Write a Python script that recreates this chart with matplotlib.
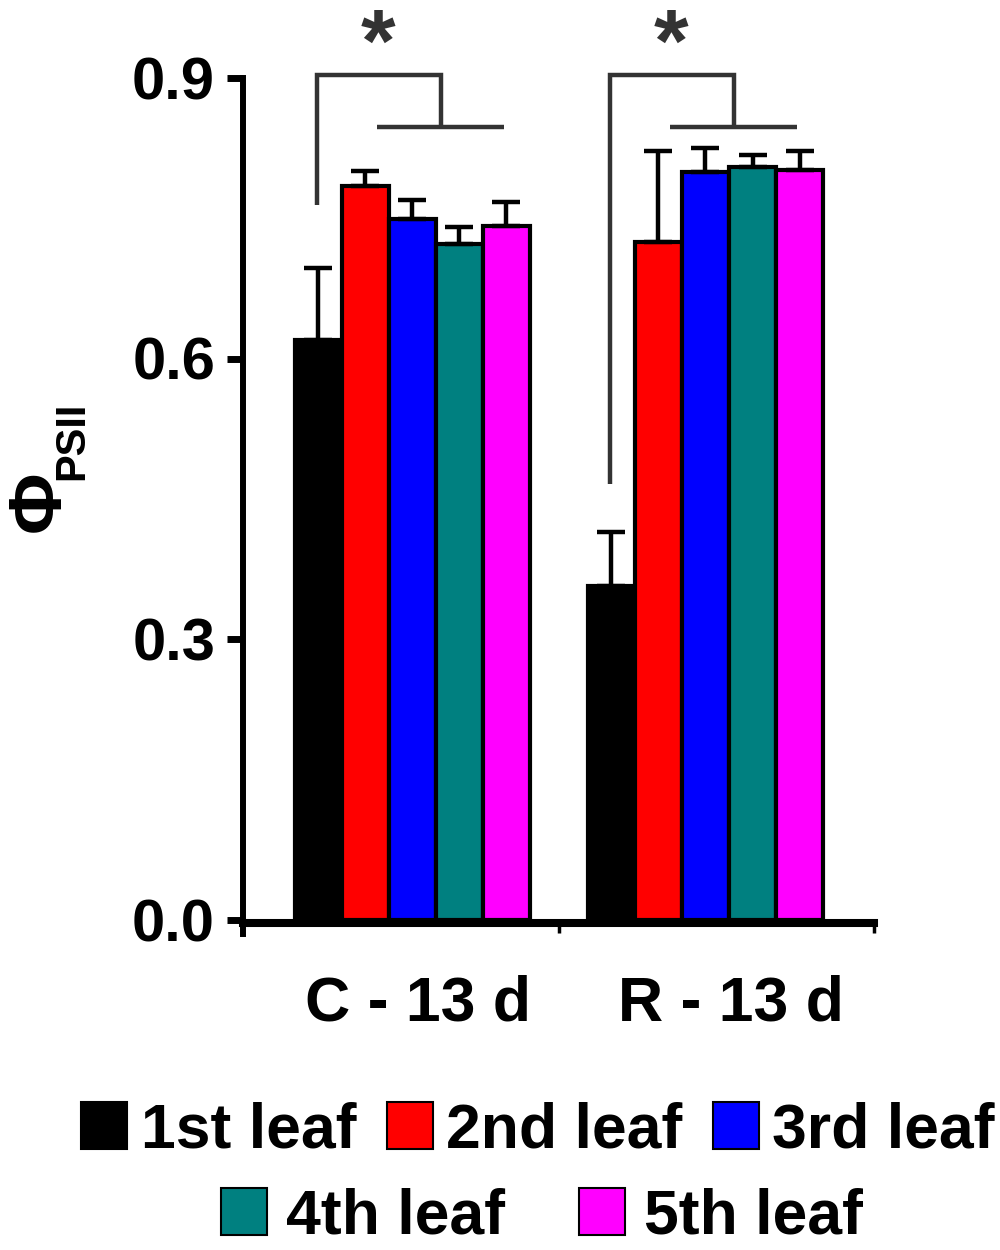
import numpy as np
import matplotlib
matplotlib.use("Agg")
import matplotlib.pyplot as plt
from matplotlib.patches import Patch

plt.rcParams['font.family'] = ['Liberation Sans', 'DejaVu Sans']
plt.rcParams['font.weight'] = 'bold'

# ---------------- data ----------------
groups = ['C - 13 d', 'R - 13 d']
leaves = ['1st leaf', '2nd leaf', '3rd leaf', '4th leaf', '5th leaf']
colors = ['#000000', '#FF0000', '#0000FF', '#008080', '#FF00FF']

c_mean = [0.620, 0.785, 0.749, 0.722, 0.742]
c_err = [0.077, 0.016, 0.021, 0.019, 0.025]
r_mean = [0.357, 0.725, 0.799, 0.805, 0.802]
r_err = [0.057, 0.097, 0.026, 0.013, 0.020]

means = [c_mean, r_mean]
errs = [c_err, r_err]

yticks = [0.0, 0.3, 0.6, 0.9]
ytick_labels = ['0.0', '0.3', '0.6', '0.9']

# ---------------- layout ----------------
group_start = [0.0, 6.234]
bar_w = 1.0
gray = '#333333'

fig = plt.figure(figsize=(10, 12.5), dpi=100)
ax = fig.add_axes([0.243, 0.2644, 0.631, 0.6732])

for g in range(len(groups)):
    x = group_start[g] + np.arange(len(leaves)) * bar_w
    ax.bar(x, means[g], width=bar_w, color=colors, edgecolor='black',
           linewidth=3, zorder=2)
    ax.errorbar(x, means[g], yerr=[np.zeros(len(leaves)), errs[g]],
                fmt='none', ecolor='black', elinewidth=3.2, capsize=10,
                capthick=3.2, zorder=3)

# significance brackets
leg_bottom = [0.764, 0.466]
y_top = 0.903
y_mid = 0.848
for g in range(len(groups)):
    s = group_start[g]
    xl = s - 0.04
    xm = s + 2.6
    ax.plot([xl, xl, xm, xm], [leg_bottom[g], y_top, y_top, y_mid],
            color=gray, lw=3.2, clip_on=False, solid_capstyle='butt',
            solid_joinstyle='miter')
    ax.plot([s + 1.255, s + 3.957], [y_mid, y_mid], color=gray, lw=3.2,
            clip_on=False, solid_capstyle='butt')
    ax.text(s + 1.26, 0.908, '*', color=gray, fontsize=64,
            fontweight='bold', ha='center', va='baseline', clip_on=False)

ax.set_xlim(-1.606, 11.819)
ax.set_ylim(0, 0.9)

for side in ['top', 'right']:
    ax.spines[side].set_visible(False)
ax.spines['left'].set_linewidth(4.3)
ax.spines['left'].set_bounds(-0.015, 0.9)
ax.spines['bottom'].set_linewidth(5.8)
ax.spines['bottom'].set_position(('data', -0.004))

ax.set_yticks(yticks)
ax.set_yticklabels(ytick_labels)
ax.tick_params(axis='y', length=11.5, width=5, pad=8.6, labelsize=43)

ax.set_xticks([-1.606, 5.117, 11.819])
ax.set_xticklabels([])
ax.set_xticks([2.117, 8.777], minor=True)
ax.set_xticklabels(groups, minor=True)
ax.tick_params(axis='x', which='major', length=7, width=2.5, direction='out')
ax.tick_params(axis='x', which='minor', length=0, pad=37, labelsize=45)

# y label: Phi with PSII subscript
fig.text(0.060, 1 - 532 / 1250, 'Φ', rotation=90, rotation_mode='anchor',
         ha='left', va='baseline', fontsize=54, fontweight='bold')
fig.text(0.083, 1 - 480 / 1250, 'PSII', rotation=90, rotation_mode='anchor',
         ha='left', va='baseline', fontsize=30, fontweight='bold')

# legend in two rows
handles = [Patch(facecolor=c, edgecolor='black', linewidth=1.5) for c in colors]
leg1 = fig.legend(handles[:3], leaves[:3], loc='center', ncol=3,
                  bbox_to_anchor=(0.538, 1 - 1131 / 1250), frameon=False,
                  prop={'size': 45, 'weight': 'bold'}, handlelength=0.74,
                  handleheight=0.77, handletextpad=0.21, columnspacing=0.49,
                  borderpad=0, borderaxespad=0)
leg2 = fig.legend(handles[3:], leaves[3:], loc='center', ncol=2,
                  bbox_to_anchor=(0.542, 1 - 1217 / 1250), frameon=False,
                  prop={'size': 45, 'weight': 'bold'}, handlelength=0.74,
                  handleheight=0.77, handletextpad=0.3, columnspacing=1.18,
                  borderpad=0, borderaxespad=0)

fig.savefig('out.png', dpi=100)
